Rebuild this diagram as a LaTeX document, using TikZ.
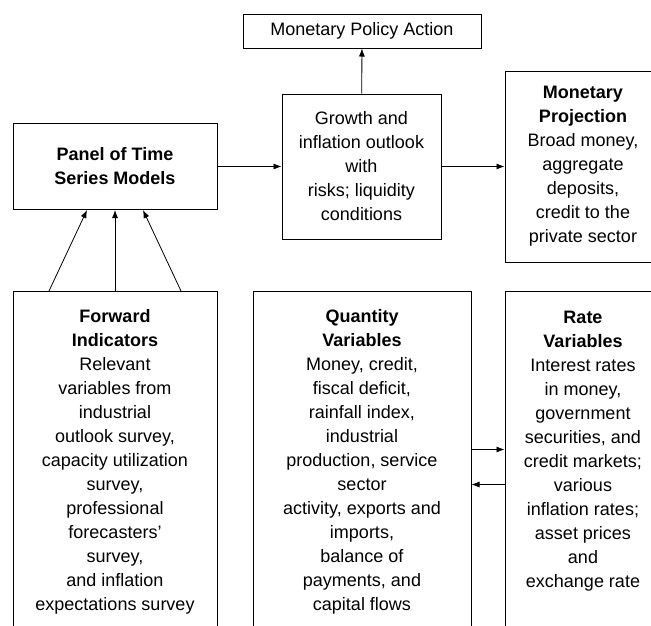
\documentclass[tikz,border=0pt]{standalone}
\usepackage{fontspec}
\setmainfont{Liberation Sans}
\usetikzlibrary{arrows.meta}
\tikzset{>={Latex[length=8pt,width=6pt]}}
\tikzset{
  box/.style={draw,line width=1pt,align=center,inner sep=2pt,font=\fontsize{18}{24}\selectfont},
  colbox/.style={box,anchor=north,minimum height=340pt},
  link/.style={->,line width=0.8pt}
}

\begin{document}
\begin{tikzpicture}[x=1pt,y=-1pt]
			\useasboundingbox (0,0) rectangle (651,625);
			\clip (0,0) rectangle (651,625);
			% upper row
			\node[box,minimum width=238pt,minimum height=34pt] (action) at (362,31) {Monetary Policy Action};
			\node[box,minimum width=204pt,minimum height=86pt] (panel) at (115,166.5) {\textbf{Panel of Time}\\\textbf{Series Models}};
			\node[box,minimum width=159pt,minimum height=145pt] (outlook) at (361.5,166.5) {Growth and\\inflation outlook\\with\\risks; liquidity\\conditions};
			\node[box,minimum width=156pt,minimum height=191pt] (projection) at (583,166.5) {\textbf{Monetary}\\\textbf{Projection}\\Broad money,\\aggregate\\deposits,\\credit to the\\private sector};
			% lower row, boxes run past the page
			\node[colbox,minimum width=204pt] (forward) at (115,291) {\textbf{Forward}\\\textbf{Indicators}\\Relevant\\variables from\\industrial\\outlook survey,\\capacity utilization\\survey,\\professional\\forecasters'\\survey,\\and inflation\\expectations survey};
			\node[colbox,minimum width=218pt] (quantity) at (362,291) {\textbf{Quantity}\\\textbf{Variables}\\Money, credit,\\fiscal deficit,\\rainfall index,\\industrial\\production, service\\sector\\activity, exports and\\imports,\\balance of\\payments, and\\capital flows};
			\node[colbox,minimum width=156pt] (rate) at (583,291) {\textbf{Rate}\\\textbf{Variables}\\Interest rates\\in money,\\government\\securities, and\\credit markets;\\various\\inflation rates;\\asset prices\\and\\exchange rate\\\phantom{x}};
			% connectors
			\draw[link] (outlook) -- (action);
			\draw[link] (panel) -- (outlook);
			\draw[link] (outlook) -- (projection);
			\draw[link] ([xshift=-66pt]forward.north) -- ([xshift=-28pt]panel.south);
			\draw[link] (forward.north) -- (panel.south);
			\draw[link] ([xshift=66pt]forward.north) -- ([xshift=28pt]panel.south);
			\draw[link] ([yshift=12pt]quantity.east) -- ([yshift=12pt]rate.west);
			\draw[link] ([yshift=-23pt]rate.west) -- ([yshift=-23pt]quantity.east);
		\end{tikzpicture}
\end{document}
